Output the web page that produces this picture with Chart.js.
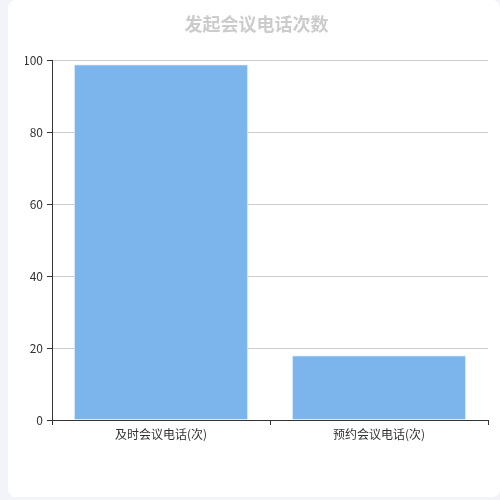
<!DOCTYPE html>
<html>
<head>
<meta charset="utf-8">
<script src="https://cdn.jsdelivr.net/npm/chart.js@4/dist/chart.umd.min.js"></script>
<style>
    html, body { margin: 0; padding: 0; background: #f3f4f9; width: 500px; height: 500px; overflow: hidden; }
    .card { position: absolute; left: 8px; top: 0; width: 492px; height: 497px; background: #fff; border-radius: 8px; }
    canvas { display: block; }
</style>
</head>
<body>
<div class="card">
    <canvas id="chart" width="492" height="497"></canvas>
</div>
<script>
const categories = ["及时会议电话(次)", "预约会议电话(次)"];
const callCounts = [99, 18];
const yTicks = [0, 20, 40, 60, 80, 100];

const fontFamily = "'Noto Sans CJK SC', 'Noto Sans', sans-serif";

var ctx = document.getElementById("chart").getContext("2d");
var myChart = new Chart(ctx, {
    type: "bar",
    data: {
        labels: categories,
        datasets: [
            {
                label: "次数",
                data: callCounts,
                backgroundColor: "#7cb5ec",
                borderColor: "#e8f2fc",
                borderWidth: 1,
                barPercentage: 0.8,
                categoryPercentage: 1,
            },
        ],
    },
    options: {
        responsive: false,
        animation: false,
        // left padding keeps the title centred where the original has it
        layout: { padding: { top: 0, right: 12, bottom: 0, left: 17 } },
        plugins: {
            legend: { display: false },
            tooltip: { enabled: false },
            title: {
                display: true,
                text: "发起会议电话次数",
                color: "#cccccc",
                font: { family: fontFamily, size: 18, weight: "bold" },
                padding: { top: 13, bottom: 26 },
            },
        },
        scales: {
            x: {
                offset: true,
                grid: {
                    offset: true,
                    drawOnChartArea: false,
                    drawTicks: true,
                    tickLength: 5,
                    tickColor: "#333",
                },
                border: { display: true, color: "#333", width: 1 },
                ticks: { color: "#333", font: { family: fontFamily, size: 12 }, padding: 2 },
                afterFit: function (scale) { scale.height = 77; },
            },
            y: {
                min: 0,
                max: 100,
                afterBuildTicks: function (scale) {
                    scale.ticks = yTicks.map(function (v) { return { value: v }; });
                },
                grid: { color: "#cccccc", tickColor: "#333", tickLength: 5 },
                border: { display: true, color: "#333", width: 1 },
                ticks: { color: "#333", font: { family: fontFamily, size: 12 }, padding: 4 },
                afterFit: function (scale) { scale.width = 27; },
            },
        },
    },
});
</script>
</body>
</html>
